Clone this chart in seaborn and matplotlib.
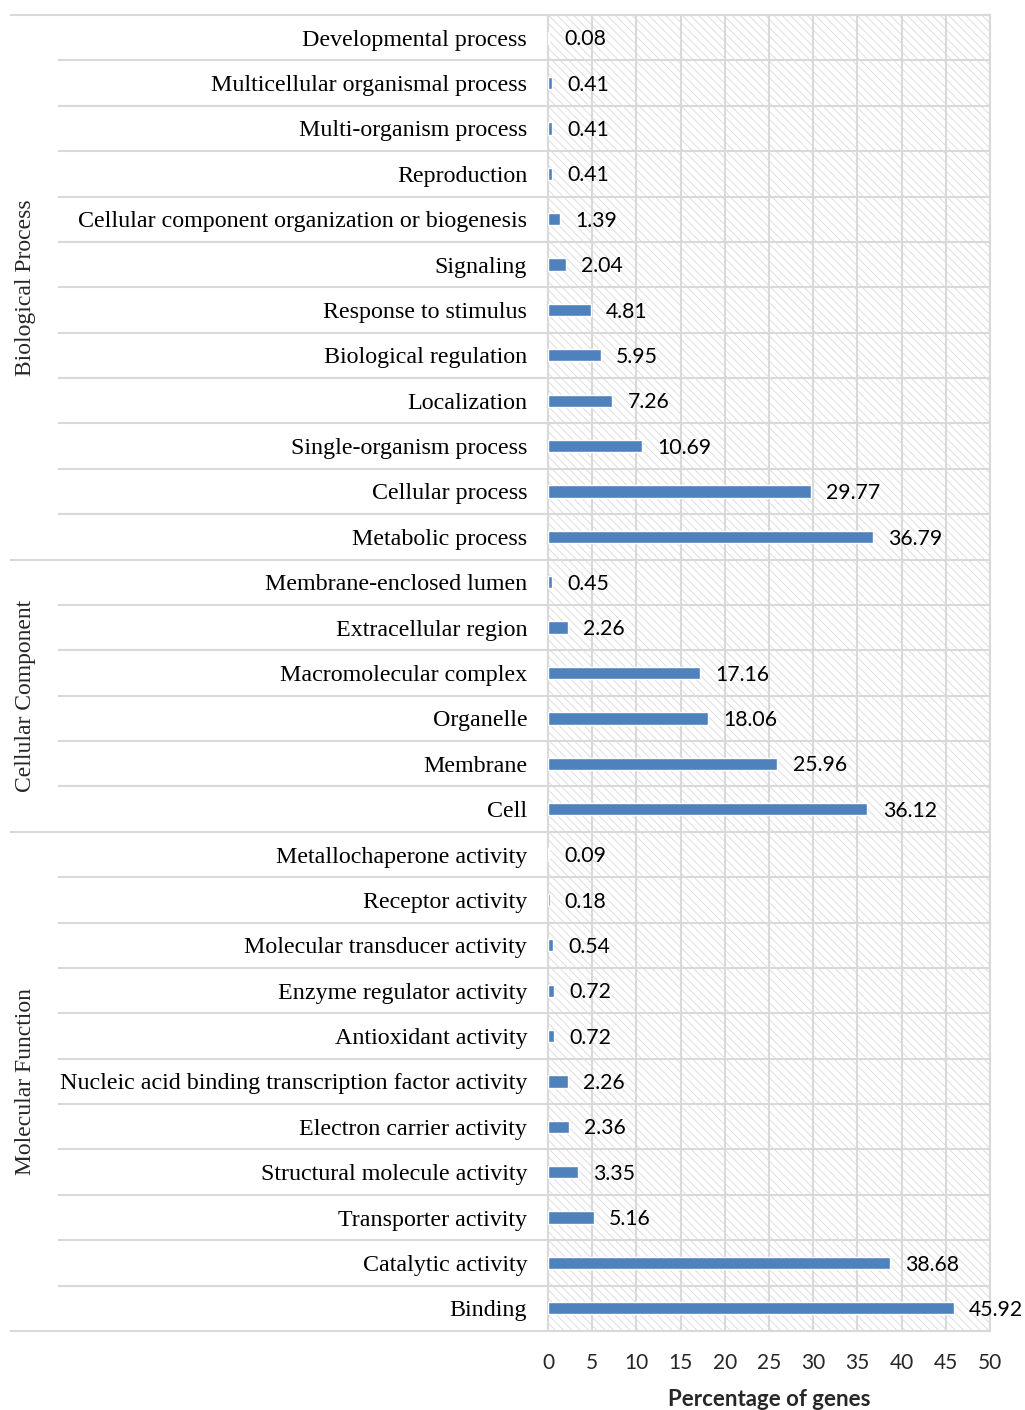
import matplotlib
matplotlib.use("Agg")
import matplotlib.pyplot as plt
import matplotlib.transforms as mtransforms
from matplotlib.patches import Rectangle
import seaborn as sns
import pandas as pd

# GO term categories (top to bottom) and percentage of genes
bp_terms = ["Developmental process", "Multicellular organismal process",
            "Multi-organism process", "Reproduction",
            "Cellular component organization or biogenesis", "Signaling",
            "Response to stimulus", "Biological regulation", "Localization",
            "Single-organism process", "Cellular process", "Metabolic process"]
bp_values = [0.08, 0.41, 0.41, 0.41, 1.39, 2.04, 4.81, 5.95, 7.26, 10.69, 29.77, 36.79]

cc_terms = ["Membrane-enclosed lumen", "Extracellular region",
            "Macromolecular complex", "Organelle", "Membrane", "Cell"]
cc_values = [0.45, 2.26, 17.16, 18.06, 25.96, 36.12]

mf_terms = ["Metallochaperone activity", "Receptor activity",
            "Molecular transducer activity", "Enzyme regulator activity",
            "Antioxidant activity",
            "Nucleic acid binding transcription factor activity",
            "Electron carrier activity", "Structural molecule activity",
            "Transporter activity", "Catalytic activity", "Binding"]
mf_values = [0.09, 0.18, 0.54, 0.72, 0.72, 2.26, 2.36, 3.35, 5.16, 38.68, 45.92]

group_names = ["Biological Process", "Cellular Component", "Molecular Function"]
x_ticks = [0, 5, 10, 15, 20, 25, 30, 35, 40, 45, 50]
x_label = "Percentage of genes"

terms = bp_terms + cc_terms + mf_terms
values = bp_values + cc_values + mf_values
groups = ([group_names[0]] * len(bp_terms) + [group_names[1]] * len(cc_terms)
          + [group_names[2]] * len(mf_terms))
df = pd.DataFrame({"term": terms, "value": values, "group": groups})

sns.set_theme(style="white")
plt.rcParams["font.family"] = ["Liberation Serif", "DejaVu Serif"]

W, H = 1025, 1410
fig = plt.figure(figsize=(W / 100, H / 100), dpi=100)
ax_l, ax_r, ax_t, ax_b = 548, 990, 15, 1331
ax = fig.add_axes([ax_l / W, 1 - ax_b / H, (ax_r - ax_l) / W, (ax_b - ax_t) / H])

grid_c = "#d9d9d9"
bar_c = "#4f81bd"
num_font = "Lato"

# hatched plot background
plt.rcParams["hatch.linewidth"] = 0.6
plt.rcParams["hatch.color"] = grid_c
bg = Rectangle((0, 0), 1, 1, transform=ax.transAxes, facecolor="white",
               edgecolor=grid_c, hatch="\\\\\\\\", linewidth=0, zorder=0)
ax.add_patch(bg)

sns.barplot(data=df, y="term", x="value", order=terms, orient="h",
            color=bar_c, width=0.27, errorbar=None, ax=ax, zorder=3,
            saturation=1)

ax.set_xlim(0, 50)
ax.set_ylim(len(terms) - 0.5, -0.5)
ax.set_xticks(x_ticks)
ax.set_xticklabels([str(t) for t in x_ticks], family=num_font, fontsize=15)
ax.tick_params(axis="x", length=0, pad=16)
ax.tick_params(axis="y", length=0, pad=15, labelsize=17.3)
for lbl in ax.get_yticklabels():
    lbl.set_color("black")
ax.set_ylabel("")
ax.set_xlabel(x_label, family=num_font, fontweight="bold", fontsize=16,
              labelpad=11)

# vertical gridlines
for t in x_ticks[1:]:
    ax.axvline(t, color=grid_c, lw=1.5, zorder=1)
for s in ax.spines.values():
    s.set_color(grid_c)
    s.set_linewidth(1.5)

# value labels at the end of each bar
for p, v in zip(ax.patches[1:] if len(ax.patches) > len(values) else ax.patches,
                values):
    ax.annotate(f"{v:.2f}", xy=(p.get_x() + p.get_width(),
                                p.get_y() + p.get_height() / 2),
                xytext=(11, -1.2), textcoords="offset points",
                ha="left", va="center", family=num_font, fontsize=15.3,
                color="black")

# row separators spanning the label area
trans = mtransforms.blended_transform_factory(ax.transAxes, ax.transData)
x_row = (58 - ax_l) / (ax_r - ax_l)
x_grp = (10 - ax_l) / (ax_r - ax_l)
bounds = [0, len(bp_terms), len(bp_terms) + len(cc_terms), len(terms)]
for i in range(len(terms) + 1):
    y = i - 0.5
    x0 = x_grp if i in bounds else x_row
    ax.plot([x0, 1], [y, y], transform=trans, color=grid_c, lw=1.5,
            clip_on=False, zorder=2, solid_capstyle="butt")

# group labels
x_gl = (26 - ax_l) / (ax_r - ax_l)
for g, (a, b) in zip(group_names, zip(bounds[:-1], bounds[1:])):
    ax.text(x_gl, (a + b - 1) / 2, g, transform=trans, rotation=90,
            ha="center", va="center", fontsize=17)

fig.savefig("out.png", dpi=100)
